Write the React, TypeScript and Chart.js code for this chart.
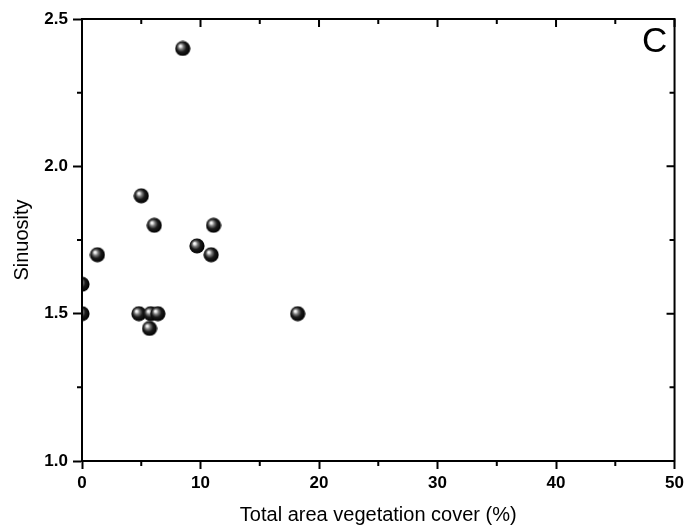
import React, { useEffect, useRef } from "react";
import { Chart, registerables } from "chart.js";

Chart.register(...registerables);

const vegCover = [8.5, 5.0, 6.1, 11.1, 9.7, 10.9, 1.3, 0, 0, 4.8, 5.8, 6.4, 5.7, 18.2];
const sinuosity = [2.4, 1.9, 1.8, 1.8, 1.73, 1.7, 1.7, 1.6, 1.5, 1.5, 1.5, 1.5, 1.45, 1.5];
const xMinorTicks = [5, 15, 25, 35, 45];
const xMajorTicks = [0, 10, 20, 30, 40, 50];
const yMinorTicks = [1.25, 1.75, 2.25];
const yMajorTicks = [1.0, 1.5, 2.0, 2.5];
const panelLabel = "C";
const xTitle = "Total area vegetation cover (%)";
const yTitle = "Sinuosity";

const FONT = "'Liberation Sans', Arial, sans-serif";

function makeSphere(): HTMLCanvasElement {
  const size = 16;
  const c = document.createElement("canvas");
  c.width = size;
  c.height = size;
  const g = c.getContext("2d")!;
  const r = size / 2;
  const grad = g.createRadialGradient(r - 2.6, r - 2.6, 0.2, r - 0.5, r - 0.5, r);
  grad.addColorStop(0, "#ffffff");
  grad.addColorStop(0.12, "#e6e6e6");
  grad.addColorStop(0.32, "#7a7a7a");
  grad.addColorStop(0.6, "#1c1c1c");
  grad.addColorStop(1, "#000000");
  g.beginPath();
  g.arc(r, r, r - 0.4, 0, Math.PI * 2);
  g.fillStyle = grad;
  g.fill();
  return c;
}

const framePlugin = {
  id: "frame",
  afterDatasetsDraw(chart: any) {
    const { ctx, chartArea } = chart;
    const { left, right, top, bottom } = chartArea;
    const xs = chart.scales.x;
    const ys = chart.scales.y;
    ctx.save();
    ctx.strokeStyle = "#000";
    ctx.lineWidth = 2;
    ctx.beginPath();
    ctx.moveTo(left, top);
    ctx.lineTo(right, top);
    ctx.lineTo(right, bottom);
    ctx.lineTo(left, bottom);
    ctx.closePath();
    ctx.stroke();
    ctx.beginPath();
    for (const v of xMinorTicks) {
      const px = xs.getPixelForValue(v);
      ctx.moveTo(px, bottom);
      ctx.lineTo(px, bottom + 5);
      ctx.moveTo(px, top);
      ctx.lineTo(px, top + 5);
    }
    for (const v of xMajorTicks) {
      const px = xs.getPixelForValue(v);
      ctx.moveTo(px, top);
      ctx.lineTo(px, top + 8);
    }
    for (const v of yMinorTicks) {
      const py = ys.getPixelForValue(v);
      ctx.moveTo(left, py);
      ctx.lineTo(left - 5, py);
      ctx.moveTo(right, py);
      ctx.lineTo(right - 5, py);
    }
    for (const v of yMajorTicks) {
      const py = ys.getPixelForValue(v);
      ctx.moveTo(right, py);
      ctx.lineTo(right - 8, py);
    }
    ctx.stroke();
    ctx.fillStyle = "#000";
    ctx.font = `35px ${FONT}`;
    ctx.textAlign = "left";
    ctx.textBaseline = "alphabetic";
    ctx.fillText(panelLabel, 642, 52);
    ctx.restore();
  },
};

export default function App() {
  const ref = useRef<HTMLCanvasElement | null>(null);
  useEffect(() => {
    if (!ref.current) return;
    const sphere = makeSphere();
    const chart = new Chart(ref.current, {
      type: "scatter",
      data: {
        datasets: [
          {
            data: vegCover.map((x, i) => ({ x, y: sinuosity[i] })),
            pointStyle: sphere as any,
            pointRadius: 8,
            pointHoverRadius: 8,
            clip: 0 as any,
          },
        ],
      },
      options: {
        animation: false,
        responsive: false,
        devicePixelRatio: 1,
        events: [],
        layout: { padding: { top: 19, right: 13, left: 0, bottom: 0 } },
        plugins: { legend: { display: false }, tooltip: { enabled: false } },
        scales: {
          x: {
            type: "linear",
            min: 0,
            max: 50,
            afterFit: (s: any) => {
              s.height = 66;
            },
            ticks: {
              stepSize: 10,
              color: "#000",
              padding: 4,
              font: { family: FONT, size: 17, weight: "bold" },
              maxRotation: 0,
            },
            grid: {
              drawOnChartArea: false,
              drawTicks: true,
              tickLength: 8,
              tickWidth: 2,
              tickColor: "#000",
            },
            border: { display: true, color: "#000", width: 2 },
            title: {
              display: true,
              text: xTitle,
              color: "#000",
              font: { family: FONT, size: 20 },
              padding: { top: 0, bottom: 0 },
            },
          },
          y: {
            type: "linear",
            min: 1.0,
            max: 2.5,
            afterFit: (s: any) => {
              s.width = 82;
            },
            ticks: {
              stepSize: 0.5,
              color: "#000",
              padding: 5,
              font: { family: FONT, size: 17, weight: "bold" },
              callback: (v: any) => Number(v).toFixed(1),
            },
            grid: {
              drawOnChartArea: false,
              drawTicks: true,
              tickLength: 9,
              tickWidth: 2,
              tickColor: "#000",
            },
            border: { display: true, color: "#000", width: 2 },
            title: {
              display: true,
              text: yTitle,
              color: "#000",
              font: { family: FONT, size: 20 },
              padding: { top: 10, bottom: 0 },
            },
          },
        },
      },
      plugins: [framePlugin],
    });
    return () => chart.destroy();
  }, []);
  return (
    <div style={{ position: "absolute", left: 0, top: 0, width: 688, height: 527, background: "#fff" }}>
      <canvas ref={ref} width={688} height={527} />
    </div>
  );
}
